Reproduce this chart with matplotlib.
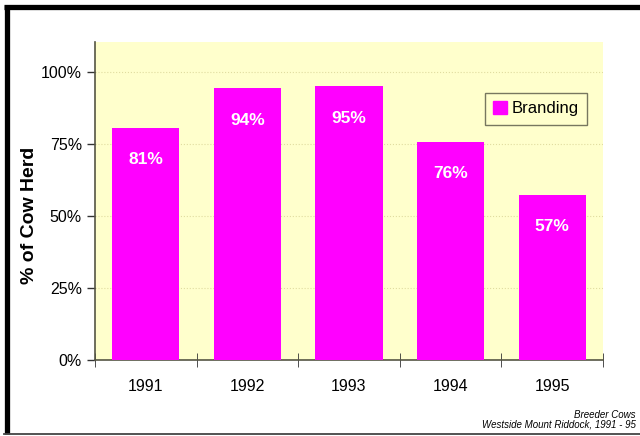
import matplotlib.pyplot as plt
import matplotlib.patches as mpatches
import numpy as np

years = ['1991', '1992', '1993', '1994', '1995']
branding = [80.6, 94.4, 95.1, 75.7, 57.3]
bar_labels = ['81%', '94%', '95%', '76%', '57%']
y_ticks = [0, 25, 50, 75, 100]
y_tick_labels = ['0%', '25%', '50%', '75%', '100%']

plt.rcParams['font.family'] = ['Liberation Sans', 'DejaVu Sans']

W, H = 640, 436
fig = plt.figure(figsize=(W / 100, H / 100), dpi=100)
fig.patch.set_facecolor('white')

# outer frame: heavy top/left, thin bottom
fig.add_artist(plt.Line2D([4 / W, 1.0], [1 - 7.5 / H, 1 - 7.5 / H], transform=fig.transFigure,
                          color='black', lw=3.8, solid_capstyle='butt'))
fig.add_artist(plt.Line2D([6.5 / W, 6.5 / W], [1 - 434 / H, 1 - 5 / H], transform=fig.transFigure,
                          color='black', lw=3.8, solid_capstyle='butt'))
fig.add_artist(plt.Line2D([4 / W, 1.0], [1 - 433.5 / H, 1 - 433.5 / H], transform=fig.transFigure,
                          color='#444444', lw=1.3))

ax = fig.add_axes([95 / W, 1 - 360 / H, 508 / W, 318 / H])
ax.set_facecolor('#ffffcc')

x = np.arange(len(years))
ax.bar(x, branding, width=0.66, color='#ff00ff', zorder=3, label='Branding')

for xi, v, lab in zip(x, branding, bar_labels):
    ax.annotate(lab, (xi, v), xytext=(0, -32), textcoords='offset pixels',
                ha='center', va='center', color='white', fontsize=12.5,
                fontweight='bold', zorder=4)

ax.set_xlim(-0.5, len(years) - 0.5)
ax.set_ylim(0, 110.4)
ax.set_yticks(y_ticks)
ax.set_yticklabels(y_tick_labels, fontsize=11.5)
for y in y_ticks[1:]:
    ax.axhline(y, color='#e0dca0', lw=0.8, ls=':', zorder=1)

# category labels centred, ticks on boundaries
ax.set_xticks(x)
ax.set_xticklabels(years, fontsize=11.5)
ax.tick_params(axis='x', length=0, pad=14)
ax.set_xticks(np.arange(-0.5, len(years)), minor=True)
ax.tick_params(axis='x', which='minor', direction='inout', length=10, color='#333333')
ax.tick_params(axis='y', direction='out', length=6, color='#333333', width=1)

for s in ['top', 'right']:
    ax.spines[s].set_visible(False)
for s in ['left', 'bottom']:
    ax.spines[s].set_color('#555544')
    ax.spines[s].set_linewidth(1.2)

ax.set_ylabel('% of Cow Herd', fontsize=14, fontweight='bold')
ax.yaxis.set_label_coords((38 - 95) / 508, (360 - 215) / 318)

handle = mpatches.Patch(color='#ff00ff', label='Branding')
leg = ax.legend(handles=[handle], loc='upper right', bbox_to_anchor=(0.969, 0.84),
                borderaxespad=0, fontsize=12, frameon=True, fancybox=False,
                handlelength=0.8, handleheight=0.8, handletextpad=0.3, borderpad=0.5)
leg.get_frame().set_edgecolor('#555544')
leg.get_frame().set_facecolor('#ffffcc')
leg.get_frame().set_linewidth(1.0)

fig.text(636 / W, 1 - 415 / H, 'Breeder Cows', ha='right', va='center',
         fontsize=7, style='italic')
fig.text(636 / W, 1 - 424 / H, 'Westside Mount Riddock, 1991 - 95', ha='right',
         va='center', fontsize=7, style='italic')

fig.savefig('out.png', dpi=100)
